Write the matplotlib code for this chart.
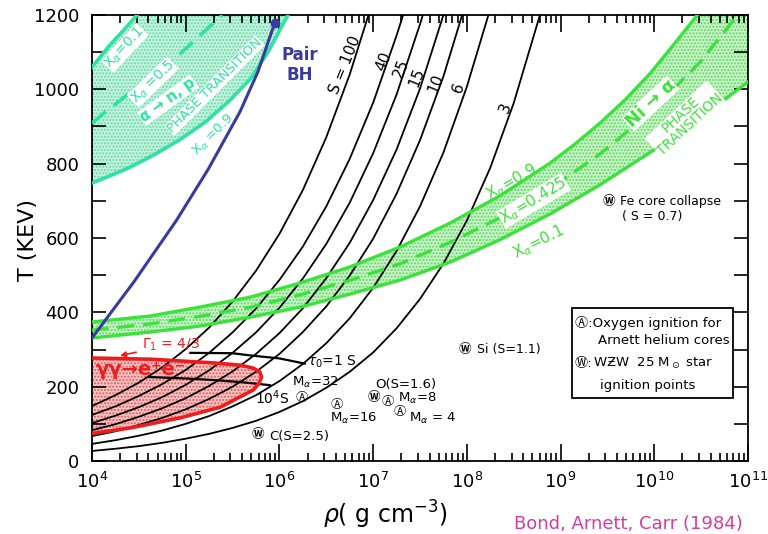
import matplotlib.pyplot as plt
import numpy as np
from matplotlib.patches import Rectangle

plt.rcParams['font.family'] = ['DejaVu Sans', 'Noto Sans CJK JP']

# isentropes: log10(rho) and T (keV)
s_names = ['S = 100', '40', '25', '15', '10', '6', '3']
s_lr = [
    [4.0, 4.25, 4.5, 4.75, 5.0, 5.25, 5.5, 5.75, 6.0, 6.25, 6.5, 6.75, 6.95],
    [4.0, 4.25, 4.5, 4.75, 5.0, 5.25, 5.5, 5.75, 6.0, 6.25, 6.5, 6.75, 7.0, 7.25, 7.32],
    [4.0, 4.25, 4.5, 4.75, 5.0, 5.25, 5.5, 5.75, 6.0, 6.25, 6.5, 6.75, 7.0, 7.25, 7.5, 7.53],
    [4.0, 4.25, 4.5, 4.75, 5.0, 5.25, 5.5, 5.75, 6.0, 6.25, 6.5, 6.75, 7.0, 7.25, 7.5, 7.75],
    [4.0, 4.25, 4.5, 4.75, 5.0, 5.25, 5.5, 5.75, 6.0, 6.25, 6.5, 6.75, 7.0, 7.25, 7.5, 7.75, 7.95],
    [4.0, 4.25, 4.5, 4.75, 5.0, 5.25, 5.5, 5.75, 6.0, 6.25, 6.5, 6.75, 7.0, 7.25, 7.5, 7.75, 8.0, 8.23],
    [4.0, 4.25, 4.5, 4.75, 5.0, 5.25, 5.5, 5.75, 6.0, 6.25, 6.5, 6.75, 7.0, 7.25, 7.5, 7.75, 8.0, 8.25, 8.5, 8.78],
]
s_T = [
    [148, 177, 211, 252, 301, 359, 429, 512, 611, 729, 871, 1040, 1200],
    [124, 147, 175, 207, 245, 291, 346, 410, 487, 577, 685, 813, 964, 1145, 1200],
    [102, 122, 145, 172, 205, 244, 291, 346, 412, 491, 584, 695, 828, 986, 1175, 1200],
    [83, 99, 119, 142, 169, 202, 241, 288, 344, 411, 492, 587, 702, 838, 1002, 1200],
    [67, 80, 97, 116, 139, 167, 200, 240, 288, 347, 416, 499, 598, 719, 863, 1035, 1200],
    [46, 56, 68, 82, 100, 121, 147, 177, 215, 261, 317, 384, 466, 565, 685, 830, 1007, 1200],
    [27, 33, 40, 49, 60, 73, 89, 108, 132, 161, 197, 240, 292, 357, 436, 531, 647, 789, 963, 1200],
]
s_lab_lr = [6.70, 7.11, 7.30, 7.47, 7.67, 7.91, 8.41]
s_lab_T = [1065, 1076, 1057, 1033, 1017, 1004, 950]

# Ni -> alpha phase transition band
ni_hi_lr = [4.0, 4.62, 5.15, 5.69, 6.22, 6.75, 7.29, 7.82, 8.35, 8.89, 9.15, 9.42, 9.69, 9.96, 10.2, 10.46]
ni_hi_T = [374, 390, 414, 441, 479, 522, 576, 640, 713, 802, 852, 909, 972, 1044, 1118, 1200]
ni_mid_lr = [4.0, 4.62, 5.15, 5.69, 6.22, 6.75, 7.29, 7.82, 8.35, 8.89, 9.42, 9.96, 10.49, 10.89]
ni_mid_T = [352, 369, 389, 414, 447, 486, 531, 588, 654, 733, 826, 938, 1074, 1200]
ni_lo_lr = [4.0, 4.62, 5.15, 5.69, 6.22, 6.75, 7.29, 7.82, 8.35, 8.89, 9.42, 9.96, 10.49, 11.0]
ni_lo_T = [331, 347, 363, 387, 414, 449, 487, 535, 595, 665, 743, 831, 923, 1020]

# alpha -> n,p phase transition band
al_01_lr = [4.0, 4.19, 4.33, 4.48]
al_01_T = [1060, 1119, 1157, 1200]
al_05_lr = [4.0, 4.14, 4.54, 4.89, 5.26, 5.39]
al_05_T = [909, 939, 1017, 1084, 1170, 1200]
al_09_lr = [4.0, 4.2, 4.41, 4.67, 4.94, 5.21, 5.47, 5.69, 5.87, 6.09]
al_09_T = [748, 768, 791, 825, 865, 912, 970, 1028, 1097, 1200]

# pair instability black hole boundary
bh_lr = [4.0, 4.45, 4.9, 5.24, 5.58, 5.77, 5.95]
bh_T = [331, 483, 647, 785, 940, 1047, 1179]

# Gamma_1 = 4/3 region
pair_lr = [3.9, 4.01, 4.62, 5.29, 5.58, 5.72, 5.79, 5.81, 5.78, 5.72, 5.37, 4.94, 4.41, 4.03, 3.9]
pair_T = [278, 277, 274, 264, 258, 250, 240, 226, 208, 191, 145, 116, 89, 75, 72]

# burning timescale curves
tau1_lr = [5.05, 5.5, 5.69, 6.0, 6.27]
tau1_T = [291, 290, 284, 276, 262]
tau4_lr = [4.6, 5.0, 5.29, 5.6, 5.9]
tau4_T = [226, 222, 218, 212, 204]

# ignition points
a_lr = [6.24, 6.61, 7.16, 7.29]
a_T = [172, 153, 160, 134]
w_lr = [7.01, 5.77, 7.98, 9.52]
w_T = [172, 70, 299, 697]

teal = '#2DE3A2'
green = '#3BE23B'
red = '#EE1C1C'
blue = '#3A3A9C'

fig = plt.figure(figsize=(7.68, 5.34), dpi=100)
ax = fig.add_axes([92 / 768, 1 - 461 / 534, 656 / 768, 446 / 534])
ax.set_xscale('log')

def X(v):
    return 10 ** np.asarray(v, dtype=float)

# shaded bands
poly_lr = ni_hi_lr + [11.3] + ni_lo_lr[::-1]
poly_T = ni_hi_T + [1300] + ni_lo_T[::-1]
ax.fill(X(poly_lr), poly_T, facecolor='#c8f2c8', edgecolor='#62d962', hatch='.....', lw=0, zorder=1)
poly_lr = al_09_lr + al_01_lr[::-1]
poly_T = al_09_T + al_01_T[::-1]
ax.fill(X(poly_lr), poly_T, facecolor='#c6f1de', edgecolor='#62dcaa', hatch='.....', lw=0, zorder=1)
ax.fill(X(pair_lr), pair_T, facecolor='#f6c4c4', edgecolor='#e05858', hatch='.....', lw=0, zorder=1)

for lr, T in zip(s_lr, s_T):
    ax.plot(X(lr), T, color='black', lw=1.3, zorder=2)
ax.plot(X(tau1_lr), tau1_T, color='black', lw=1.6, zorder=2)
ax.plot(X(tau4_lr), tau4_T, color='black', lw=1.6, zorder=2)

ax.plot(X(ni_hi_lr), ni_hi_T, color=green, lw=2.4, zorder=3)
ax.plot(X(ni_lo_lr), ni_lo_T, color=green, lw=2.4, zorder=3)
ax.plot(X(ni_mid_lr), ni_mid_T, color=green, lw=2.4, dashes=(5, 2.7), zorder=3)
ax.plot(X(al_01_lr), al_01_T, color=teal, lw=2.6, zorder=3)
ax.plot(X(al_09_lr), al_09_T, color=teal, lw=2.6, zorder=3)
ax.plot(X(al_05_lr), al_05_T, color=teal, lw=2.6, dashes=(5, 2.7), zorder=3)
ax.plot(X(pair_lr), pair_T, color=red, lw=2.6, zorder=3)
ax.plot(X(bh_lr), bh_T, color=blue, lw=2.2, zorder=3)
ax.plot(X(bh_lr[-1:]), bh_T[-1:], 'o', color=blue, ms=6, zorder=4)

# isentrope labels
for name, lr, T in zip(s_names, s_lab_lr, s_lab_T):
    ax.text(10 ** lr, T, name, rotation=68, ha='center', va='center', fontsize=11,
            rotation_mode='anchor', zorder=5)

wb = dict(facecolor='white', edgecolor='none', pad=0.3)
# alpha band labels
ax.text(10 ** 4.35, 1111, r'X$_\alpha$=0.1', color=teal, rotation=47, ha='center', va='center',
        fontsize=10, rotation_mode='anchor', bbox=wb, zorder=5)
ax.text(10 ** 4.65, 1020, r'X$_\alpha$ =0.5', color=teal, rotation=44, ha='center', va='center',
        fontsize=10, rotation_mode='anchor', bbox=wb, zorder=5)
ax.text(10 ** 5.31, 1010, 'PHASE TRANSITION', color=teal, rotation=45, ha='center', va='center',
        fontsize=9.5, rotation_mode='anchor', bbox=wb, zorder=5)
ax.text(10 ** 4.81, 971, 'α → n, p', color=teal, rotation=36, ha='center', va='center',
        fontsize=10.5, fontweight='bold', rotation_mode='anchor', bbox=wb, zorder=6)
ax.text(10 ** 5.30, 877, r'X$_\alpha$ =0.9', color=teal, rotation=45, ha='center', va='center',
        fontsize=9.5, rotation_mode='anchor', zorder=7)

# Ni band labels
ax.text(10 ** 8.48, 750, r'X$_\alpha$=0.9', color=green, rotation=30, ha='center', va='center',
        fontsize=11, rotation_mode='anchor', zorder=5)
ax.text(10 ** 8.71, 700, r'X$_\alpha$=0.425', color=green, rotation=31, ha='center', va='center',
        fontsize=11, rotation_mode='anchor', bbox=wb, zorder=5)
ax.text(10 ** 8.76, 590, r'X$_\alpha$=0.1', color=green, rotation=27, ha='center', va='center',
        fontsize=11, rotation_mode='anchor', zorder=5)
ax.text(10 ** 9.96, 962, 'Ni → α', color=green, rotation=43, ha='center', va='center',
        fontsize=13, fontweight='bold', rotation_mode='anchor', bbox=wb, zorder=5)
ax.text(10 ** 10.33, 918, 'PHASE\nTRANSITION', color=green, rotation=43, ha='center', va='center',
        fontsize=10, linespacing=0.95, rotation_mode='anchor', bbox=wb, zorder=5)

# pair region labels
ax.text(10 ** 4.04, 245, 'γγ→e⁺e⁻', color=red, fontsize=14, fontweight='bold',
        ha='left', va='center', zorder=5)
ax.annotate(r'$\Gamma_1$ = 4/3', xy=(10 ** 4.27, 282), xytext=(10 ** 4.53, 312), color=red,
            fontsize=10, ha='left', va='center', zorder=5,
            arrowprops=dict(arrowstyle='-|>', color=red, lw=1.2, mutation_scale=8))

ax.text(10 ** 6.22, 1065, 'Pair\nBH', color=blue, fontsize=12, fontweight='bold',
        ha='center', va='center', linespacing=1.1, zorder=5)

ax.text(10 ** 6.29, 266, r'$\tau_0$=1 S', fontsize=10, ha='left', va='center', zorder=5)
ax.text(10 ** 5.74, 170, r'10$^4$S', fontsize=10, ha='left', va='center', zorder=5)

# ignition points
for lr, T in zip(a_lr, a_T):
    ax.text(10 ** lr, T, 'Ⓐ', fontsize=9, ha='center', va='center', zorder=5)
for lr, T in zip(w_lr, w_T):
    ax.text(10 ** lr, T, 'Ⓦ', fontsize=9, fontweight='bold', ha='center', va='center', zorder=5)
ax.text(10 ** 6.13, 210, r'M$_\alpha$=32', fontsize=9.5, ha='left', va='center', zorder=5)
ax.text(10 ** 6.54, 114, r'M$_\alpha$=16', fontsize=9.5, ha='left', va='center', zorder=5)
ax.text(10 ** 7.02, 207, 'O(S=1.6)', fontsize=9.5, ha='left', va='center', zorder=5)
ax.text(10 ** 7.27, 167, r'M$_\alpha$=8', fontsize=9.5, ha='left', va='center', zorder=5)
ax.text(10 ** 7.38, 114, r'M$_\alpha$ = 4', fontsize=9.5, ha='left', va='center', zorder=5)
ax.text(10 ** 5.89, 65, 'C(S=2.5)', fontsize=9.5, ha='left', va='center', zorder=5)
ax.text(10 ** 8.11, 299, 'Si (S=1.1)', fontsize=9, ha='left', va='center', zorder=5)
ax.text(10 ** 9.63, 697, 'Fe core collapse', fontsize=9, ha='left', va='center', zorder=5)
ax.text(10 ** 9.66, 659, '( S = 0.7)', fontsize=9, ha='left', va='center', zorder=5)

# key box
ax.add_patch(Rectangle((0.7317, 0.1413), 0.2454, 0.2018, transform=ax.transAxes,
                       facecolor='white', edgecolor='black', lw=1.3, zorder=6))
ax.text(0.7363, 0.3094, 'Ⓐ:Oxygen ignition for', transform=ax.transAxes, fontsize=9.5,
        ha='left', va='center', zorder=7)
ax.text(0.7713, 0.2713, 'Arnett helium cores', transform=ax.transAxes, fontsize=9.5,
        ha='left', va='center', zorder=7)
tw = ax.text(0.7363, 0.2197, 'Ⓦ:', transform=ax.transAxes, fontsize=9.5,
             ha='left', va='center', zorder=7)
ax.annotate(r'WƵW  25 M$_\odot$ star', xy=(1, 0.5), xycoords=tw, fontsize=9.5,
            ha='left', va='center', zorder=7)
ax.text(0.7744, 0.1704, 'ignition points', transform=ax.transAxes, fontsize=9.5,
        ha='left', va='center', zorder=7)

# axes
ax.set_xlim(1e4, 1e11)
ax.set_ylim(0, 1200)
decades = np.arange(4, 12)
ax.set_xticks(10.0 ** decades)
ax.set_xticklabels([r'$10^{%d}$' % d for d in decades])
ax.set_xticks([m * 10.0 ** d for d in decades[:-1] for m in range(2, 10)], minor=True)
ax.set_yticks(np.arange(0, 1201, 200))
ax.set_yticks(np.arange(100, 1200, 200), minor=True)
ax.tick_params(which='both', direction='in', top=True, right=True, width=1.2, labelsize=13)
ax.tick_params(axis='x', which='major', length=12, pad=8)
ax.tick_params(axis='x', which='minor', length=6)
ax.tick_params(axis='y', which='both', length=10, pad=9)
for sp in ax.spines.values():
    sp.set_linewidth(1.3)

fig.text(28 / 768, 1 - 240 / 534, 'T (KEV)', rotation=90, ha='center', va='center', fontsize=16)
fig.text(385 / 768, 1 - 515 / 534, r'$\rho$( g cm$^{-3}$)', ha='center', va='center', fontsize=17)
fig.text(628 / 768, 1 - 524 / 534, 'Bond, Arnett, Carr (1984)', ha='center', va='center',
         fontsize=13, color='#D63CA0')

fig.savefig('out.png', dpi=100)
